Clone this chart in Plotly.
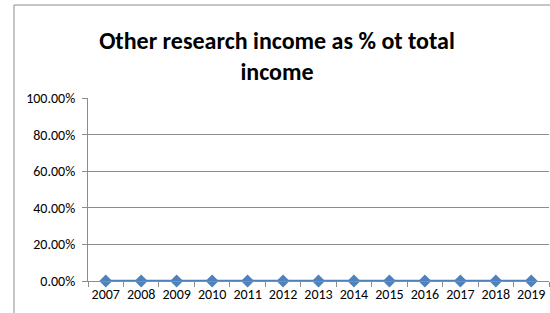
import plotly.graph_objects as go

years = ["2007", "2008", "2009", "2010", "2011", "2012", "2013",
         "2014", "2015", "2016", "2017", "2018", "2019"]
values = [0.0] * len(years)
title_text = "Other research income as % ot total<br>income"

blue = "#4F81BD"
grid = "#8C8C8C"
font_family = "Carlito, Calibri, Lato, sans-serif"

fig = go.Figure()
fig.add_trace(go.Scatter(
    x=years, y=values, mode="lines+markers",
    line=dict(color=blue, width=2.5),
    marker=dict(symbol="diamond", size=10, color=blue),
    cliponaxis=False, showlegend=False,
))

fig.update_layout(
    width=550, height=313,
    margin=dict(l=88, r=1, t=98, b=32, autoexpand=False),
    paper_bgcolor="white", plot_bgcolor="white",
    font=dict(family=font_family, size=14, color="#000000"),
    title=dict(text=title_text, x=277 / 550, xref="container", xanchor="center",
               y=1 - 48.5 / 313, yref="container", yanchor="middle",
               font=dict(family=font_family, size=24, color="#000000", weight="bold")),
    shapes=[dict(type="rect", xref="paper", yref="paper",
                 xsizemode="pixel", ysizemode="pixel", xanchor=0, yanchor=1,
                 x0=-74, x1=600, y0=93, y1=-400,
                 line=dict(color=grid, width=1), layer="below")],
)
fig.update_xaxes(
    type="category", range=[-0.5, 12.5], automargin=False, tickangle=0,
    showline=True, linecolor=grid, linewidth=1,
    ticks="outside", tickson="boundaries", ticklen=5, tickcolor=grid,
    showgrid=False, tickfont=dict(size=14),
)
fig.update_yaxes(
    range=[0, 1], dtick=0.2, tickformat=".2%", automargin=False,
    showline=True, linecolor=grid, linewidth=1,
    ticks="outside", ticklen=5, tickcolor=grid, ticklabelstandoff=4,
    showgrid=True, gridcolor=grid, gridwidth=1,
    zeroline=False, tickfont=dict(size=14),
)

fig.write_html("out.html", config={"displayModeBar": False},
               post_script="document.body.style.margin='0';")
